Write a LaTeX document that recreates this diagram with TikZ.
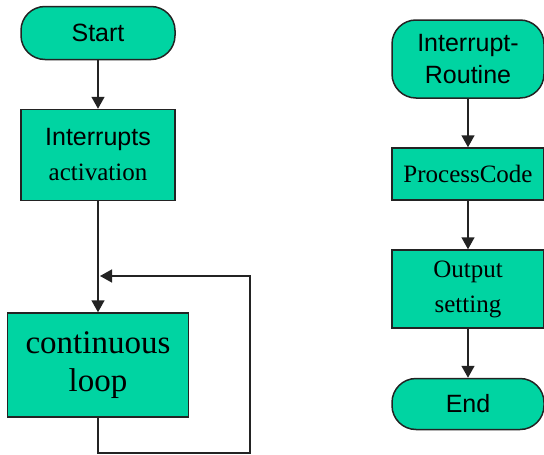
\documentclass[tikz,border=0pt]{standalone}
\usepackage{fontspec}
\setmainfont{Liberation Serif}
\setsansfont{Liberation Sans}
\usetikzlibrary{arrows.meta,positioning}

\definecolor{flowgreen}{RGB}{0,212,162}
\definecolor{flowline}{RGB}{35,35,35}

\tikzset{
	term/.style={draw=flowline,fill=flowgreen,rounded corners=24pt,line width=1.5pt,inner sep=0pt,align=center,
		font=\sffamily\fontsize{25}{32}\selectfont},
	proc/.style={draw=flowline,fill=flowgreen,line width=1.5pt,inner sep=0pt,align=center,
		font=\fontsize{25}{35}\selectfont},
}

\begin{document}
\begin{tikzpicture}[->,>={Triangle[width=13pt,length=12pt]},line width=1.5pt,draw=flowline,x=1pt,y=-1pt,node distance=115pt]

		\useasboundingbox (0,0) rectangle (544,455);

		% main program
		\node[term,minimum width=154pt,minimum height=53pt] (q_start) at (98,33) {Start};
		\node[proc,minimum width=154pt,minimum height=91pt,below of=q_start,node distance=122pt] (q_act) {{\sffamily Interrupts}\\activation};
		\node[proc,minimum width=181pt,minimum height=104pt,below of=q_act,node distance=210pt,
			font=\fontsize{33}{38}\selectfont] (q_loop) {continuous\\loop};

		% interrupt routine
		\node[term,minimum width=152pt,minimum height=78pt] (q_ir) at (468,59) {Interrupt-\\Routine};
		\node[proc,minimum width=152pt,minimum height=52pt,below of=q_ir] (q_code) {ProcessCode};
		\node[proc,minimum width=152pt,minimum height=78pt,below of=q_code] (q_out) {Output\\setting};
		\node[term,minimum width=152pt,minimum height=51pt,below of=q_out] (q_end) {End};

		\coordinate (fb_in)  at (98,276);
		\coordinate (fb_out) at (250,453);

		\draw[->] (q_start) -- (q_act);
		\draw[->] (q_act) -- (q_loop);
		\draw[->,shorten >=2pt] (q_loop.south) |- (fb_out) |- (fb_in);

		\draw[->] (q_ir) -- (q_code);
		\draw[->] (q_code) -- (q_out);
		\draw[->] (q_out) -- (q_end);
	\end{tikzpicture}
\end{document}
